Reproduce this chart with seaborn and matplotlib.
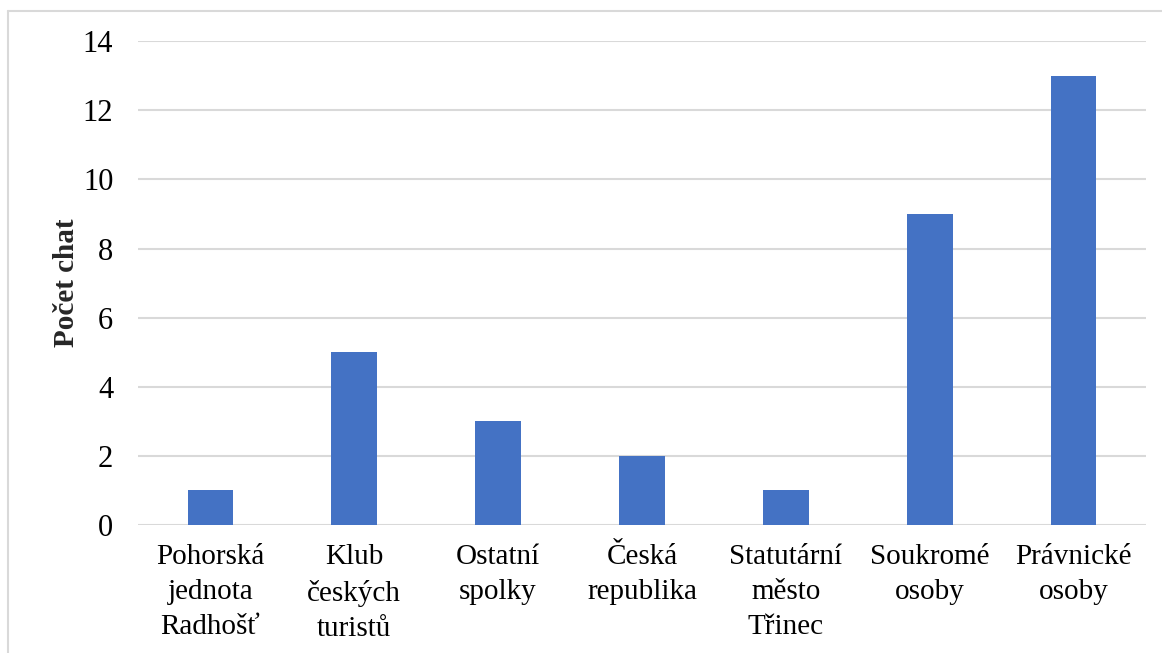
import matplotlib
matplotlib.use('Agg')
import matplotlib.pyplot as plt
import seaborn as sns
import pandas as pd
from matplotlib.lines import Line2D

categories = ['Pohorská\njednota\nRadhošť', 'Klub\nčeských\nturistů', 'Ostatní\nspolky',
              'Česká\nrepublika', 'Statutární\nměsto\nTřinec', 'Soukromé\nosoby', 'Právnické\nosoby']
counts = [1, 5, 3, 2, 1, 9, 13]
y_ticks = [0, 2, 4, 6, 8, 10, 12, 14]

df = pd.DataFrame({'kategorie': categories, 'pocet': counts})

sns.set_theme(style='white')
plt.rcParams['font.family'] = ['Liberation Serif', 'DejaVu Serif']

fig = plt.figure(figsize=(11.62, 6.53), dpi=100)
ax = fig.add_axes([0.119, 0.196, 0.867, 0.741])

sns.barplot(data=df, x='kategorie', y='pocet', color='#4472C4', width=0.315,
            saturation=1, linewidth=0, ax=ax, zorder=3)

ax.set_ylim(0, 14)
ax.set_yticks(y_ticks)
ax.set_xticks(range(len(categories)), labels=categories, linespacing=1.45)
ax.yaxis.grid(True, color='#d9d9d9', linewidth=1.5, zorder=0)
ax.set_axisbelow(True)
for s in ax.spines.values():
    s.set_visible(False)
ax.tick_params(axis='y', length=0, labelsize=22, colors='black', pad=18)
ax.tick_params(axis='x', length=0, labelsize=21, colors='black', pad=14)
ax.set_xlabel('')
ax.set_ylabel('Počet chat', fontsize=21, fontweight='bold', labelpad=2)

# light frame around the chart
fig.add_artist(Line2D([8/1162, 8/1162], [0, 1 - 11/653], transform=fig.transFigure,
                      color='#d9d9d9', linewidth=1.5))
fig.add_artist(Line2D([8/1162, 1], [1 - 11/653, 1 - 11/653], transform=fig.transFigure,
                      color='#d9d9d9', linewidth=1.5))

fig.savefig('out.png', dpi=100)
